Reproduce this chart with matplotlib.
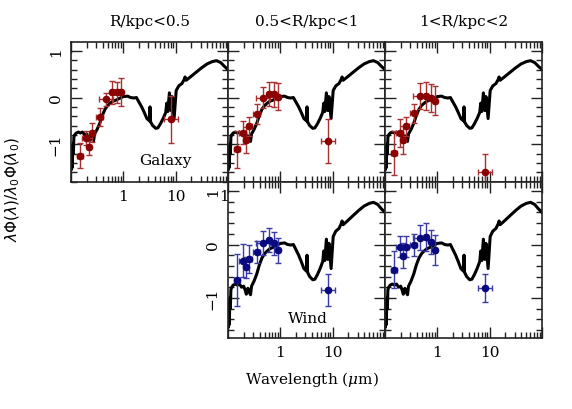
import numpy as np
import matplotlib
matplotlib.use("Agg")
import matplotlib.pyplot as plt
from matplotlib.ticker import FixedLocator, FixedFormatter, LogLocator, NullFormatter, MultipleLocator
from matplotlib.transforms import Bbox

# ---------------- data ----------------
# template SED (wavelength in micron, log flux)
sed_wave = [0.1000, 0.1012, 0.1035, 0.1059, 0.1084, 0.1109, 0.1135, 0.1175, 0.1259, 0.1380,
            0.1514, 0.1660, 0.1820, 0.1995, 0.2138, 0.2239, 0.2399, 0.2570, 0.2692, 0.2818,
            0.3162, 0.3548, 0.3981, 0.4467, 0.5012, 0.5623, 0.6310, 0.7413, 0.8710, 1.000,
            1.202, 1.380, 1.585, 1.778, 1.995, 2.239, 2.512, 2.818, 3.162, 3.236,
            3.311, 3.631, 4.169, 4.571, 5.129, 5.754, 6.457, 6.761, 7.079, 7.586,
            8.128, 8.511, 9.333, 10.23, 11.48, 13.18, 14.45, 15.14, 15.85, 19.05,
            25.12, 31.62, 39.81, 50.12, 60.26, 72.44, 85.11, 100.0]
sed_flux = [-1.35, -1.55, -1.15, -1.50, -1.00, -1.20, -0.85, -0.80, -0.76, -0.74,
            -0.76, -0.74, -0.80, -0.78, -0.86, -0.93, -0.82, -0.90, -0.94, -0.78,
            -0.68, -0.55, -0.38, -0.25, -0.17, -0.12, -0.08, -0.05, -0.01, 0.02,
            0.03, 0.00, -0.01, 0.00, -0.10, -0.20, -0.32, -0.45, -0.50, -0.20,
            -0.52, -0.60, -0.66, -0.65, -0.56, -0.45, -0.32, -0.12, -0.30, 0.10,
            -0.28, 0.02, -0.45, 0.15, 0.25, 0.30, 0.38, 0.44, 0.37, 0.44,
            0.55, 0.64, 0.72, 0.77, 0.79, 0.75, 0.67, 0.60]

# photometric points
band_wave = [0.148, 0.19, 0.224, 0.257, 0.355, 0.468, 0.617, 0.759, 0.912, 8.1]
band_xerr_dex = [0.06, 0.06, 0.04, 0.05, 0.07, 0.13, 0.04, 0.04, 0.04, 0.14]

gal_r05 = [-1.25, -0.86, -1.05, -0.75, -0.42, -0.04, 0.11, 0.11, 0.11, -0.47]
gal_r05_err = [0.27, 0.15, 0.19, 0.20, 0.19, 0.14, 0.24, 0.23, 0.30, 0.51]
gal_r1 = [-1.11, -0.75, -0.91, -0.62, -0.35, 0.00, 0.08, 0.07, 0.02, -0.93]
gal_r1_err = [0.39, 0.24, 0.27, 0.21, 0.22, 0.23, 0.26, 0.27, 0.29, 0.47]
gal_r2 = [-1.18, -0.75, -0.91, -0.62, -0.34, 0.04, 0.04, -0.01, -0.07, -1.59]
gal_r2_err = [0.47, 0.30, 0.31, 0.20, 0.21, 0.28, 0.30, 0.29, 0.31, 0.38]
wind_r1 = [-0.66, -0.30, -0.43, -0.27, -0.14, 0.03, 0.08, 0.02, -0.11, -0.85]
wind_r1_err = [0.49, 0.31, 0.20, 0.27, 0.21, 0.22, 0.22, 0.22, 0.24, 0.30]
wind_r2 = [-0.47, -0.04, -0.21, -0.04, -0.01, 0.13, 0.14, 0.05, -0.11, -0.82]
wind_r2_err = [0.34, 0.20, 0.23, 0.20, 0.21, 0.24, 0.27, 0.22, 0.28, 0.26]

col_titles = ["R/kpc<0.5", "0.5<R/kpc<1", "1<R/kpc<2"]
ytick_vals = [-1, 0, 1]
ytick_labels = ["\u22121", "0", "1"]

# ---------------- style ----------------
RED = "#8b0000"
RED_E = "#a83232"
BLUE = "#0a0a80"
BLUE_E = "#3a3aa8"
SERIF = "DejaVu Serif"

W, H = 572, 410
fig = plt.figure(figsize=(W / 100, H / 100), dpi=100)

x0 = 71
pw = 157
top_y0, top_y1 = 43, 183
bot_y0, bot_y1 = 183, 339


def add_ax(col, row):
    left = (x0 + col * pw) / W
    if row == 0:
        b = (H - top_y1) / H
        h = (top_y1 - top_y0) / H
    else:
        b = (H - bot_y1) / H
        h = (bot_y1 - bot_y0) / H
    return fig.add_axes([left, b, pw / W, h])


bw = np.array(band_wave)
dex = np.array(band_xerr_dex)
xerr = np.vstack([bw - bw * 10 ** (-dex), bw * 10 ** dex - bw])


def panel(ax, vals, errs, color, ecolor, row, show_x, show_y, xlabels):
    ax.plot(sed_wave, sed_flux, color="black", lw=2.2, zorder=2, solid_joinstyle="round")
    ax.errorbar(band_wave, vals, yerr=errs, xerr=xerr, fmt="o", color=color,
                ecolor=ecolor, elinewidth=1.0, capsize=2.5, capthick=1.0,
                markersize=4.5, zorder=3)
    ax.set_xscale("log")
    ax.set_xlim(0.1, 100)
    if row == 0:
        ax.set_ylim(-1.81, 1.19)
    else:
        ax.set_ylim(-1.75, 1.17)
    ax.xaxis.set_major_locator(FixedLocator([0.1, 1, 10, 100]))
    ax.xaxis.set_minor_locator(LogLocator(base=10, subs=np.arange(2, 10), numticks=20))
    ax.xaxis.set_minor_formatter(NullFormatter())
    ax.yaxis.set_major_locator(FixedLocator(ytick_vals))
    ax.yaxis.set_minor_locator(MultipleLocator(0.2))
    ax.tick_params(which="both", direction="in", top=True, right=True, width=1.0, color="#222222")
    ax.tick_params(which="major", length=8)
    ax.tick_params(which="minor", length=4)
    if show_x:
        ax.xaxis.set_major_formatter(FixedFormatter(xlabels))
        ax.tick_params(axis="x", labelsize=11, pad=5)
        for t in ax.get_xticklabels():
            t.set_fontfamily(SERIF)
    else:
        ax.tick_params(axis="x", labelbottom=False)
    if show_y:
        ax.yaxis.set_major_formatter(FixedFormatter(ytick_labels))
        ax.tick_params(axis="y", labelsize=11, pad=6)
        for t in ax.get_yticklabels():
            t.set_rotation(90)
            t.set_va("center")
            t.set_fontfamily(SERIF)
    else:
        ax.tick_params(axis="y", labelleft=False)
    for s in ax.spines.values():
        s.set_linewidth(1.2)
        s.set_color("#222222")


ax00 = add_ax(0, 0)
panel(ax00, gal_r05, gal_r05_err, RED, RED_E, 0, True, True, ["", "1", "10", ""])
ax00.text(6.3, -1.33, "Galaxy", fontsize=11, family=SERIF, ha="center", va="center")

ax01 = add_ax(1, 0)
panel(ax01, gal_r1, gal_r1_err, RED, RED_E, 0, False, False, None)
ax02 = add_ax(2, 0)
panel(ax02, gal_r2, gal_r2_err, RED, RED_E, 0, False, False, None)

ax11 = add_ax(1, 1)
panel(ax11, wind_r1, wind_r1_err, BLUE, BLUE_E, 1, True, True, ["", "1", "10", ""])
ax11.text(3.4, -1.38, "Wind", fontsize=11, family=SERIF, ha="center", va="center")
ax12 = add_ax(2, 1)
panel(ax12, wind_r2, wind_r2_err, BLUE, BLUE_E, 1, True, False, ["", "1", "10", ""])

# "100" label of the top-left panel, partly hidden behind the lower-middle panel
t100 = fig.text((x0 + pw + 6) / W, 1 - 197 / H, "100", ha="center", va="center",
                fontsize=11, family=SERIF)
t100.set_clip_box(Bbox.from_extents(0, 0, x0 + pw, H))
t100.set_clip_on(True)

for i, t in enumerate(col_titles):
    cx = (x0 + pw * i + pw / 2) / W
    fig.text(cx, 1 - 22 / H, t, ha="center", va="center", fontsize=11, family=SERIF)

fig.text(312 / W, 1 - 380 / H, "Wavelength ($\\mu$m)", ha="center", va="center",
         fontsize=11, family=SERIF, math_fontfamily="dejavuserif")
fig.text(13 / W, 1 - 190 / H, r"$\lambda\Phi(\lambda)/\lambda_0\Phi(\lambda_0)$",
         rotation=90, ha="center", va="center", fontsize=11, math_fontfamily="dejavusans")

fig.savefig("out.png", dpi=100)
